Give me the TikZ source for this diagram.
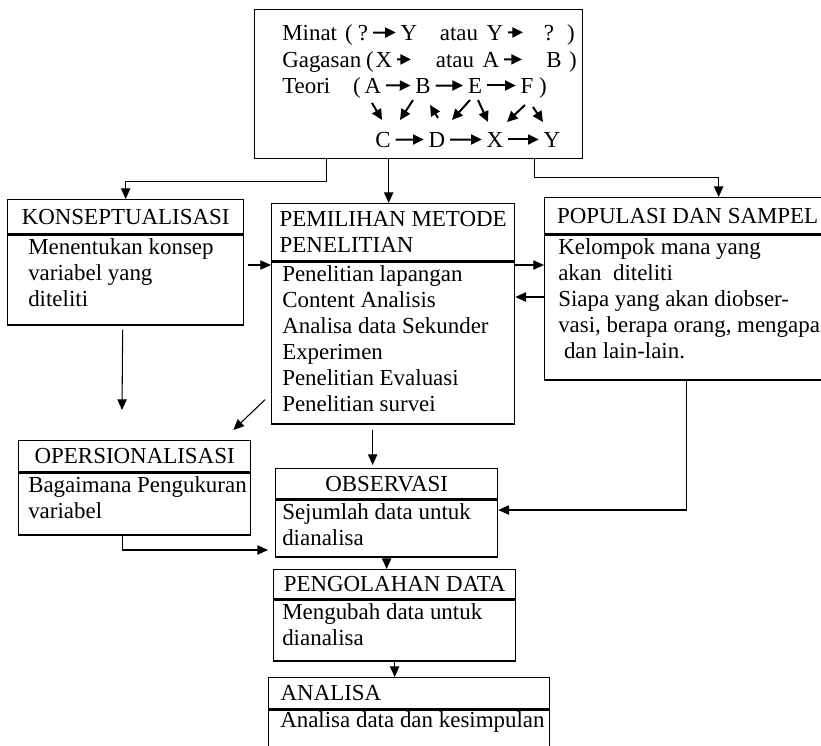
\documentclass[tikz,border=0pt]{standalone}
\usepackage{fontspec}
\setmainfont{Liberation Serif}
\usetikzlibrary{arrows.meta, positioning, calc}

\begin{document}
\begin{tikzpicture}[x=0.75pt, y=-0.75pt,
  every node/.style={font=\fontsize{17.2pt}{19.5pt}\selectfont},
  hbox/.style={draw, line width=1pt, anchor=north west, inner sep=0pt},
  bbox/.style={draw, line width=1pt, inner sep=0pt},
  txt/.style={anchor=north west, inner sep=0pt, align=left},
  ltr/.style={anchor=base, inner sep=0pt, inner xsep=3.5pt},
  wrd/.style={anchor=base, inner sep=0pt},
  tip/.style={line width=1.5pt, -{Triangle[length=8pt,width=7.5pt]}},
  conn/.style={line width=0.8pt, -{Triangle[length=8pt,width=7pt]}}]
  \useasboundingbox (0,0) rectangle (821,746);

  % Idea box at the top
  \node[hbox, minimum width=246pt, minimum height=111.75pt] (top) at (254,9) {};

  \node[wrd, anchor=base west] (minat) at (282,40) {Minat};
  \node[wrd] (po1) at (349,40) {(};
  \node[ltr] (q1) at (363,40) {?};
  \node[ltr] (y1) at (409,40) {Y};
  \node[wrd] (atau1) at (459,40) {atau};
  \node[ltr] (y2) at (495,40) {Y};
  \node[ltr] (q2) at (549,40) {?};
  \node[wrd] (pc1) at (571,40) {)};
  \coordinate (r1end) at (523,32.4);

  \node[wrd, anchor=base west] (gagasan) at (282,67) {Gagasan};
  \node[wrd] (po2) at (370,67) {(};
  \node[ltr] (x2) at (384,67) {X};
  \node[wrd] (atau2) at (455,67) {atau};
  \node[ltr] (a2) at (491,67) {A};
  \node[ltr] (b2) at (554,67) {B};
  \node[wrd] (pc2) at (573,67) {)};
  \coordinate (r2end) at (411,59.4);
  \coordinate (r2end2) at (522,59.4);

  \node[wrd, anchor=base west] (teori) at (282,93) {Teori};
  \node[wrd] (po3) at (357,93) {(};
  \node[ltr] (tA) at (373,93) {A};
  \node[ltr] (tB) at (423,93) {B};
  \node[ltr] (tE) at (475,93) {E};
  \node[ltr] (tF) at (527,93) {F};
  \node[wrd] (pc3) at (543,93) {)};

  \node[ltr] (tC) at (383,147) {C};
  \node[ltr] (tD) at (437,147) {D};
  \node[ltr] (tX) at (495,147) {X};
  \node[ltr] (tY) at (552,147) {Y};

  \draw[tip] (q1) -- (y1);
  \draw[tip] (y2) -- (r1end);
  \draw[tip] (x2) -- (r2end);
  \draw[tip] (a2) -- (r2end2);
  \draw[tip] (tA) -- (tB);
  \draw[tip] (tB) -- (tE);
  \draw[tip] (tE) -- (tF);
  \draw[tip] (tC) -- (tD);
  \draw[tip] (tD) -- (tX);
  \draw[tip] (tX) -- (tY);
  % crossing arrows between the two rows
  \draw[tip] ([shift={(-1,17.5)}]tA.center) -- ([shift={(-1,-19.5)}]tC.center);
  \draw[tip] ([shift={(-10,14.5)}]tB.center) -- ([shift={(17,-19.5)}]tC.center);
  \draw[tip] ([shift={(1,-21.5)}]tD.center) -- ([shift={(7,19.5)}]tB.center);
  \draw[tip] ([shift={(-5,14.5)}]tE.center) -- ([shift={(15,-19.5)}]tD.center);
  \draw[tip] ([shift={(3,14.5)}]tE.center) -- ([shift={(-7,-17.5)}]tX.center);
  \draw[tip] ([shift={(-2,19.5)}]tF.center) -- ([shift={(12,-17.5)}]tX.center);
  \draw[tip] ([shift={(6,21.5)}]tF.center) -- ([shift={(-9,-17.5)}]tY.center);

  % Row of three boxes
  \node[hbox, minimum width=177pt, minimum height=25.5pt] (konhead) at (7,199) {KONSEPTUALISASI};
  \node[bbox, minimum width=177pt, minimum height=67.5pt, below=0pt of konhead] (konbody) {};
  \node[txt] (kontxt) at ([shift={(21,2)}]konbody.north west) {\strut Menentukan konsep\\variabel yang\\diteliti};

  \node[hbox, minimum width=182.25pt, minimum height=42.75pt, align=left] (pemhead) at (271,203) {PEMILIHAN METODE\\PENELITIAN};
  \node[bbox, minimum width=182.25pt, minimum height=121.5pt, below=0pt of pemhead] (pembody) {};
  \node[txt] (pemtxt) at ([shift={(11,2)}]pembody.north west) {\strut Penelitian lapangan\\Content Analisis\\Analisa data Sekunder\\Experimen\\Penelitian Evaluasi\\Penelitian survei};

  \node[hbox, minimum width=214.5pt, minimum height=27pt] (pophead) at (544,197) {POPULASI DAN SAMPEL};
  \node[bbox, minimum width=214.5pt, minimum height=108.75pt, below=0pt of pophead] (popbody) {};
  \node[txt] (poptxt) at ([shift={(14,2)}]popbody.north west) {\strut Kelompok mana yang\\akan\ \ diteliti\\Siapa yang akan diobser-\\vasi, berapa orang, mengapa\\\ dan lain-lain.};

  % Lower boxes
  \node[hbox, minimum width=174pt, minimum height=23.25pt] (opshead) at (18,440) {OPERSIONALISASI};
  \node[bbox, minimum width=174pt, minimum height=46.5pt, below=0pt of opshead] (opsbody) {};
  \node[txt] (opstxt) at ([shift={(10,2)}]opsbody.north west) {\strut Bagaimana Pengukuran\\variabel};

  \node[hbox, minimum width=166.5pt, minimum height=22.5pt] (obshead) at (275,468) {OBSERVASI};
  \node[bbox, minimum width=166.5pt, minimum height=42.75pt, below=0pt of obshead] (obsbody) {};
  \node[txt] (obstxt) at ([shift={(7,2)}]obsbody.north west) {\strut Sejumlah data untuk\\dianalisa};

  \node[hbox, minimum width=181.5pt, minimum height=21.75pt] (penghead) at (273,569) {PENGOLAHAN DATA};
  \node[bbox, minimum width=181.5pt, minimum height=45.75pt, below=0pt of penghead] (pengbody) {};
  \node[txt] (pengtxt) at ([shift={(9,2)}]pengbody.north west) {\strut Mengubah data untuk\\dianalisa};

  \node[hbox, minimum width=210.75pt, minimum height=23.25pt, text width=192.75pt, align=left, inner xsep=9pt] (anahead) at (268,677) {ANALISA};
  \node[bbox, minimum width=210.75pt, minimum height=45pt, below=0pt of anahead] (anabody) {};
  \node[txt] (anatxt) at ([shift={(12,0)}]anabody.north west) {\strut Analisa data dan kesimpulan};

  % Connectors
  \draw[conn] ([shift={(-92,0)}]top.south) -- ++(0,22) -| (konhead.north);
  \draw[conn] ([shift={(-30,0)}]top.south) -- ([shift={(-4.5,0)}]pemhead.north);
  \draw[conn] ([shift={(116,0)}]top.south) -- ++(0,18) -| ([shift={(31,0)}]pophead.north);

  \coordinate (kp) at (248,265);
  \coordinate (pk) at (544,297);
  \coordinate (kend) at (122,410);
  \draw[conn] (kp) -- (kp -| pembody.west);
  \draw[conn] (pembody.east |- kp) -- (popbody.west |- kp);
  \draw[conn] (pk) -- (pk -| pembody.east);
  \draw[conn] ([shift={(-3,4)}]konbody.south) -- (kend);

  \draw[conn] ([shift={(-6,-25)}]pembody.south west) -- ([shift={(-18,-10)}]opshead.north east);
  \draw[conn] ([shift={(-20.5,5)}]pembody.south) -- ([shift={(-14,-3)}]obshead.north);
  \draw[conn] ([shift={(-12,0)}]opsbody.south) |- ([shift={(-7,21.5)}]obsbody.west);
  \draw[conn] ([shift={(-1,0)}]popbody.south) |- ([shift={(0,-18.5)}]obsbody.east);
  \draw[conn] (obsbody.south) -- (obsbody.south |- penghead.north);
  \draw[conn] (pengbody.south) -- (pengbody.south |- anahead.north);
\end{tikzpicture}
\end{document}
